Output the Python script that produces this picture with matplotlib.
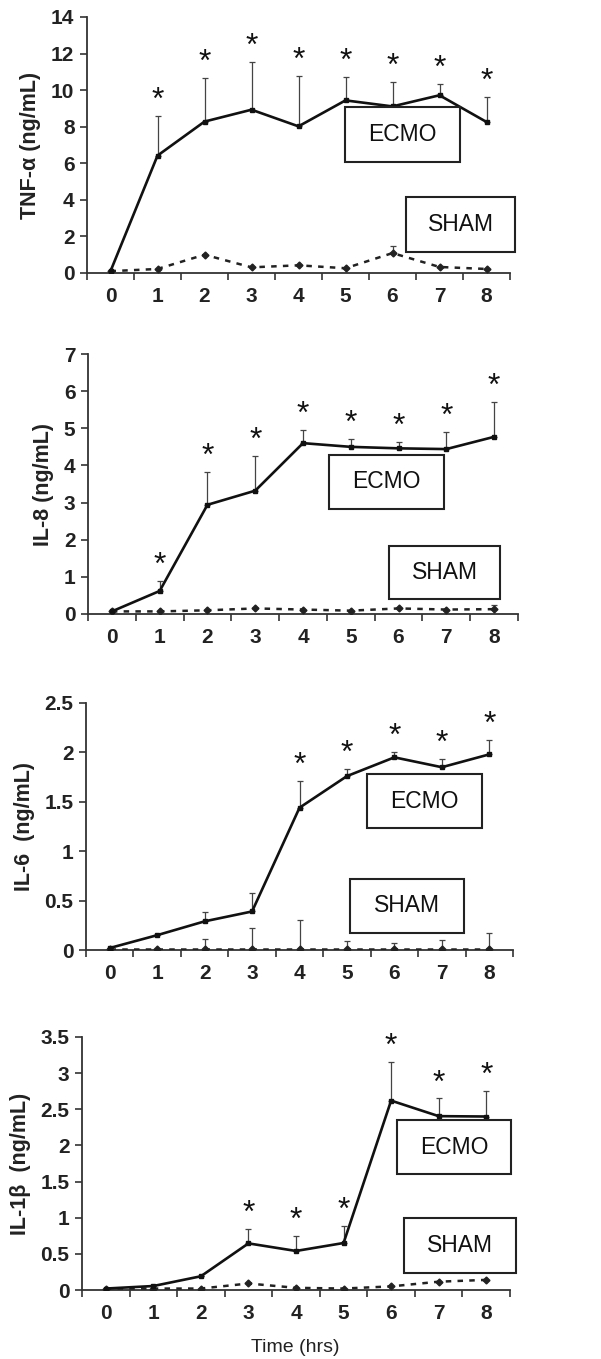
import numpy as np
import matplotlib
matplotlib.use('Agg')
import matplotlib.pyplot as plt
from matplotlib.patches import Rectangle

plt.rcParams['font.family'] = ['Liberation Sans', 'DejaVu Sans']

hours = [0, 1, 2, 3, 4, 5, 6, 7, 8]

#-----------------------------------
# TNF-alpha
#-----------------------------------
tnf_ecmo     = [0.1, 6.42, 8.28, 8.93, 8.02, 9.44, 9.11, 9.72, 8.26]
tnf_ecmo_err = [0, 2.15, 2.40, 2.59, 2.77, 1.28, 1.35, 0.62, 1.36]
tnf_sham     = [0.1, 0.22, 1.0, 0.31, 0.42, 0.26, 1.09, 0.33, 0.22]
tnf_sham_err = [0, 0, 0, 0, 0, 0, 0.40, 0, 0]
tnf_stars    = [1, 2, 3, 4, 5, 6, 7, 8]

#-----------------------------------
# IL-8
#-----------------------------------
il8_ecmo     = [0.07, 0.62, 2.94, 3.32, 4.60, 4.50, 4.46, 4.44, 4.77]
il8_ecmo_err = [0, 0.27, 0.89, 0.94, 0.36, 0.21, 0.16, 0.45, 0.94]
il8_sham     = [0.07, 0.07, 0.10, 0.15, 0.12, 0.09, 0.15, 0.12, 0.13]
il8_sham_err = [0, 0, 0, 0, 0, 0, 0, 0, 0.10]
il8_stars    = [1, 2, 3, 4, 5, 6, 7, 8]

#-----------------------------------
# IL-6
#-----------------------------------
il6_ecmo     = [0.02, 0.15, 0.29, 0.39, 1.44, 1.76, 1.95, 1.85, 1.98]
il6_ecmo_err = [0, 0, 0.09, 0.19, 0.27, 0.07, 0.05, 0.08, 0.15]
il6_sham     = [0.01, 0.01, 0.01, 0.01, 0.01, 0.01, 0.01, 0.01, 0.01]
il6_sham_err = [0, 0, 0.105, 0.21, 0.29, 0.085, 0.064, 0.09, 0.16]
il6_stars    = [4, 5, 6, 7, 8]

#-----------------------------------
# IL-1beta
#-----------------------------------
il1_ecmo     = [0.02, 0.055, 0.19, 0.645, 0.54, 0.65, 2.62, 2.405, 2.40]
il1_ecmo_err = [0, 0, 0, 0.20, 0.21, 0.23, 0.53, 0.245, 0.35]
il1_sham     = [0.02, 0.02, 0.02, 0.09, 0.03, 0.02, 0.05, 0.115, 0.14]
il1_sham_err = [0, 0, 0, 0, 0, 0, 0, 0, 0]
il1_stars    = [3, 4, 5, 6, 7, 8]

W, H = 601., 1359.

# panel layout in pixels: (x0, x1, y_zero, y_top), ylim, ticks, ylabel, boxes
panels = [
    dict(px=(87, 510, 273, 17), ymax=14, yticks=[0, 2, 4, 6, 8, 10, 12, 14],
         ylabel='TNF-\u03b1 (ng/mL)', ecmo=tnf_ecmo, ecmo_err=tnf_ecmo_err,
         sham=tnf_sham, sham_err=tnf_sham_err, stars=tnf_stars,
         ebox=(345, 107, 460, 162), sbox=(406, 197, 515, 252)),
    dict(px=(88, 518, 614, 354), ymax=7, yticks=[0, 1, 2, 3, 4, 5, 6, 7],
         ylabel='IL-8 (ng/mL)', ecmo=il8_ecmo, ecmo_err=il8_ecmo_err,
         sham=il8_sham, sham_err=il8_sham_err, stars=il8_stars,
         ebox=(329, 455, 444, 509), sbox=(389, 546, 500, 599)),
    dict(px=(86, 513, 950, 703), ymax=2.5, yticks=[0, 0.5, 1, 1.5, 2, 2.5],
         ylabel='IL-6  (ng/mL)', ecmo=il6_ecmo, ecmo_err=il6_ecmo_err,
         sham=il6_sham, sham_err=il6_sham_err, stars=il6_stars,
         ebox=(367, 774, 482, 828), sbox=(350, 879, 464, 933)),
    dict(px=(82, 510, 1290, 1037), ymax=3.5, yticks=[0, 0.5, 1, 1.5, 2, 2.5, 3, 3.5],
         ylabel='IL-1\u03b2  (ng/mL)', ecmo=il1_ecmo, ecmo_err=il1_ecmo_err,
         sham=il1_sham, sham_err=il1_sham_err, stars=il1_stars,
         ebox=(397, 1120, 511, 1174), sbox=(404, 1218, 516, 1273)),
]

fig = plt.figure(figsize=(W/100, H/100), dpi=100)
fig.patch.set_facecolor('white')

axcol = '#333333'

for i, p in enumerate(panels):
    x0, x1, yz, yt = p['px']
    ax = fig.add_axes([x0/W, 1 - yz/H, (x1 - x0)/W, (yz - yt)/H])
    ax.set_xlim(-0.5, 8.5)
    ax.set_ylim(0, p['ymax'])
    for s in ['top', 'right']:
        ax.spines[s].set_visible(False)
    for s in ['left', 'bottom']:
        ax.spines[s].set_color(axcol)
        ax.spines[s].set_linewidth(1.3)

    # sham (dashed)
    ax.errorbar(hours, p['sham'], yerr=[np.zeros(9), p['sham_err']],
                fmt='none', ecolor='#444444', elinewidth=0.9, capsize=2.5,
                capthick=0.9, zorder=2)
    ax.plot(hours, p['sham'], linestyle=(0, (2.2, 2.5)), color='#222222',
            linewidth=1.8, marker='D', markersize=3.5, zorder=3)

    # ecmo (solid)
    ax.errorbar(hours, p['ecmo'], yerr=[np.zeros(9), p['ecmo_err']],
                fmt='none', ecolor='#444444', elinewidth=0.9, capsize=2.5,
                capthick=0.9, zorder=2)
    ax.plot(hours, p['ecmo'], '-', color='#111111', linewidth=1.9,
            marker='s', markersize=3.5, zorder=4)

    for h in p['stars']:
        top = p['ecmo'][h] + p['ecmo_err'][h]
        ax.annotate('*', xy=(h, top), xytext=(0, 0), textcoords='offset points',
                    ha='center', va='bottom', fontsize=23, color='#111111')

    ax.set_xticks(hours)
    ax.set_xticklabels([str(h) for h in hours], fontsize=15, fontweight='bold', color='#222222')
    ax.tick_params(axis='x', which='major', length=0, pad=10)
    ax.set_xticks(np.arange(-0.5, 8.6, 1), minor=True)
    ax.tick_params(axis='x', which='minor', length=5, width=1.2, color=axcol, direction='out')

    ax.set_yticks(p['yticks'])
    ax.set_yticklabels([('%g' % v) for v in p['yticks']], fontsize=15, fontweight='bold', color='#222222')
    ax.tick_params(axis='y', length=5, width=1.2, color=axcol, direction='out', pad=4)

    ax.set_ylabel(p['ylabel'], fontsize=15.5, fontweight='bold', color='#222222', labelpad=7)

    # ECMO / SHAM label boxes
    for (bx0, by0, bx1, by1), label in [(p['ebox'], 'ECMO'), (p['sbox'], 'SHAM')]:
        fig.patches.append(Rectangle((bx0/W, 1 - by1/H), (bx1 - bx0)/W, (by1 - by0)/H,
                                     transform=fig.transFigure, facecolor='white',
                                     edgecolor='#222222', linewidth=1.5, zorder=10))
        fig.text((bx0 + bx1)/2/W, 1 - (by0 + by1)/2/H, label, ha='center', va='center',
                 fontsize=16.5, color='#111111', zorder=11)

fig.text(295/W, 1 - 1347/H, 'Time (hrs)', ha='center', va='center', fontsize=14, color='#222222')

plt.savefig('out.png', dpi=100)
